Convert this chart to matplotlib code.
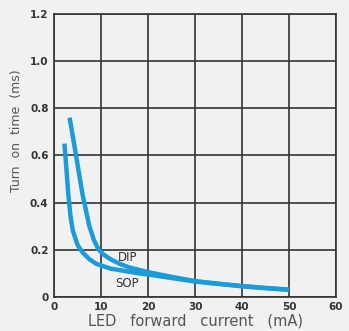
import matplotlib
matplotlib.use('Agg')
import matplotlib.pyplot as plt

# LED forward current (mA) vs turn on time (ms)
sop_x = [2.2, 2.6, 3.0, 3.5, 4.0, 5.0, 6.0, 7.5, 9.0, 10.5, 12, 15, 18, 20, 25, 30, 35, 40, 45, 50]
sop_y = [0.65, 0.55, 0.44, 0.34, 0.28, 0.22, 0.19, 0.16, 0.14, 0.13, 0.12, 0.11, 0.10, 0.095, 0.08, 0.065, 0.055, 0.045, 0.037, 0.03]
dip_x = [3.3, 4.5, 6.0, 7.5, 8.5, 9.5, 10.5, 12, 14, 16, 18, 20, 25, 30, 35, 40, 45, 50]
dip_y = [0.76, 0.62, 0.44, 0.30, 0.24, 0.20, 0.18, 0.16, 0.14, 0.125, 0.115, 0.105, 0.085, 0.067, 0.056, 0.046, 0.038, 0.031]

xticks = [0, 10, 20, 30, 40, 50, 60]
yticks = [0, 0.2, 0.4, 0.6, 0.8, 1.0, 1.2]
ytick_labels = ['0', '0.2', '0.4', '0.6', '0.8', '1.0', '1.2']

bg = '#f1f1f1'
blue = '#1b9bd7'
dark = '#333333'

fig = plt.figure(figsize=(3.49, 3.31), dpi=100, facecolor=bg)
ax = fig.add_axes([0.155, 0.103, 0.808, 0.855])
ax.set_facecolor(bg)

ax.plot(sop_x, sop_y, color=blue, lw=3.2, solid_capstyle='butt', zorder=3)
ax.plot(dip_x, dip_y, color=blue, lw=3.2, solid_capstyle='butt', zorder=3)

ax.text(15.7, 0.165, 'DIP', fontsize=8.5, color=dark, ha='center', va='center')
ax.text(15.6, 0.055, 'SOP', fontsize=8.5, color=dark, ha='center', va='center')

ax.set_xlim(0, 60)
ax.set_ylim(0, 1.2)
ax.set_xticks(xticks)
ax.set_yticks(yticks)
ax.set_yticklabels(ytick_labels)
ax.grid(True, color=dark, lw=1.2)
ax.tick_params(length=0, pad=4, labelsize=7.5, labelcolor=dark)
for lab in ax.get_xticklabels() + ax.get_yticklabels():
    lab.set_fontweight('bold')
for s in ax.spines.values():
    s.set_color(dark)
    s.set_linewidth(1.2)

ax.set_xlabel('LED   forward   current   (mA)', fontsize=10.5, color='#555555', labelpad=1)
ax.set_ylabel('Turn  on  time  (ms)', fontsize=9, color='#555555')
ax.yaxis.set_label_coords(-0.11, 0.587)

fig.savefig('out.png', dpi=100, facecolor=bg)
